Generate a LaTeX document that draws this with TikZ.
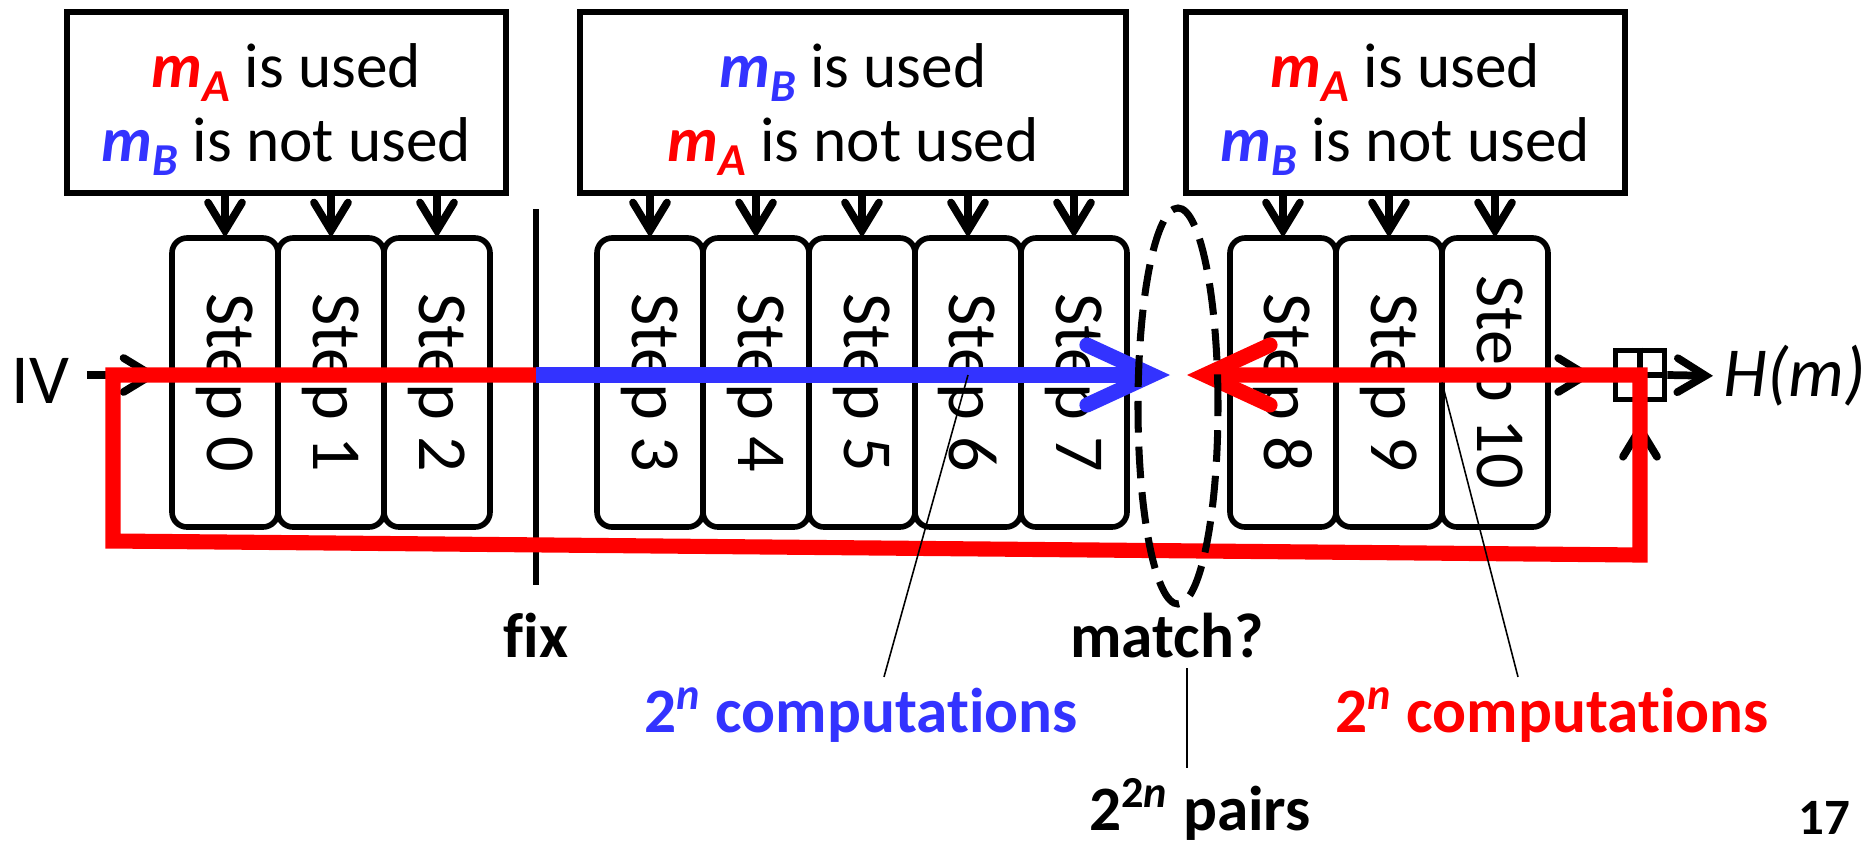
\documentclass[tikz,border=0pt]{standalone}
\usepackage{fontspec}
\setmainfont{Carlito}[Ligatures={NoCommon}]
\usetikzlibrary{arrows.meta,positioning,shapes.geometric}
\definecolor{mred}{HTML}{FF0000}
\definecolor{mblue}{HTML}{3333FF}
\newcommand{\msub}[1]{\raisebox{-4pt}{\fontsize{13}{13}\selectfont\textit{#1}}}
\newcommand{\ma}{\textcolor{mred}{\textbf{\textit{m}\msub{A}}}}
\newcommand{\mb}{\textcolor{mblue}{\textbf{\textit{m}\msub{B}}}}
\newcommand{\steplbl}[1]{\rotatebox{-90}{Step #1}}
\tikzset{
  usebox/.style={draw, line width=1.6pt, minimum height=1.81cm, align=center,
                 font=\fontsize{18}{21.3}\selectfont, inner sep=0pt, text depth=0pt},
  stepbox/.style={draw, line width=1.6pt, rounded corners=1.5mm, fill=white,
                  minimum width=1.06cm, minimum height=2.89cm, inner sep=0pt, outer sep=0pt,
                  font=\fontsize{20}{24}\selectfont},
  darr/.style={line width=2.2pt, -{Straight Barb[length=2.8mm,width=3.4mm,line cap=round]}},
  flow/.style={draw=#1, line width=4.3pt, line join=miter,
               -{Straight Barb[length=6.5mm,width=6mm,line cap=round]}},
  lbl/.style={font=\bfseries\fontsize{18}{21}\selectfont, inner sep=1mm},
  pointer/.style={line width=0.45pt},
}

\begin{document}
\begin{tikzpicture}
  \useasboundingbox (0,0) rectangle (18.72,-8.45);
  \coordinate (lvl) at (0,-3.75);

  % the eleven steps
  \node[stepbox, anchor=north west] (s0) at (1.72,-2.38) {\steplbl{0}};
  \node[stepbox, right=0pt of s0] (s1) {\steplbl{1}};
  \node[stepbox, right=0pt of s1] (s2) {\steplbl{2}};
  \node[stepbox, anchor=north west] (s3) at (5.97,-2.38) {\steplbl{3}};
  \node[stepbox, right=0pt of s3] (s4) {\steplbl{4}};
  \node[stepbox, right=0pt of s4] (s5) {\steplbl{5}};
  \node[stepbox, right=0pt of s5] (s6) {\steplbl{6}};
  \node[stepbox, right=0pt of s6] (s7) {\steplbl{7}};
  \node[stepbox, anchor=north west] (s8) at (12.30,-2.38) {\steplbl{8}};
  \node[stepbox, right=0pt of s8] (s9) {\steplbl{9}};
  \node[stepbox, right=0pt of s9] (s10) {\steplbl{10}};

  % message words per chunk
  \node[usebox, minimum width=4.39cm] (u1) at (2.865,-1.025) {\ma{} is used\\\mb{} is not used};
  \node[usebox, minimum width=5.46cm] (u2) at (8.53,-1.025) {\mb{} is used\\\ma{} is not used};
  \node[usebox, minimum width=4.39cm] (u3) at (14.055,-1.025) {\ma{} is used\\\mb{} is not used};
  \draw[darr] (u1.south -| s0.north) -- (s0.north);
  \draw[darr] (u1.south -| s1.north) -- (s1.north);
  \draw[darr] (u1.south -| s2.north) -- (s2.north);
  \draw[darr] (u2.south -| s3.north) -- (s3.north);
  \draw[darr] (u2.south -| s4.north) -- (s4.north);
  \draw[darr] (u2.south -| s5.north) -- (s5.north);
  \draw[darr] (u2.south -| s6.north) -- (s6.north);
  \draw[darr] (u2.south -| s7.north) -- (s7.north);
  \draw[darr] (u3.south -| s8.north) -- (s8.north);
  \draw[darr] (u3.south -| s9.north) -- (s9.north);
  \draw[darr] (u3.south -| s10.north) -- (s10.north);

  % chaining value, feed-forward, output
  \node[font=\fontsize{20}{24}\selectfont, inner sep=0pt, anchor=west] (iv) at (0.11,-3.81) {IV};
  \node[draw, line width=1.6pt, minimum size=0.49cm, inner sep=0pt] (ff) at (16.40,-3.75) {};
  \draw[line width=1.6pt] (ff.north) -- (ff.south) (ff.west) -- (ff.east);
  \node[font=\fontsize{20}{24}\selectfont, inner sep=0pt, anchor=west] (hm) at (17.23,-3.76) {\textit{H(m)}};
  \coordinate (ffin) at (16.40,-4.9);
  \draw[darr, shorten <=1.7mm, shorten >=1.3mm] (iv.east |- lvl) -- (s0.west |- lvl);
  \draw[darr, shorten >=1.9mm] (s10.east |- lvl) -- (ff.west);
  \draw[darr, shorten >=1.9mm] (ffin) -- (ff.south);
  \draw[darr, shorten >=1mm] (ff.east) -- (hm.west);

  % fixed state and the two directions
  \coordinate (fxtop) at (5.36,-2.09);
  \coordinate (fxbot) at (5.36,-5.85);
  \draw[line width=1.6pt] (fxtop) -- (fxbot);
  \coordinate (fx) at (5.36,-3.75);
  \coordinate (lpA) at (1.13,-5.41);
  \coordinate (lpB) at (16.40,-5.55);
  \coordinate (tipB) at (11.70,-3.75);
  \coordinate (tipR) at (11.87,-3.75);
  \draw[flow=mred] (fx) -| (lpA) -- (lpB) -- (ff.center) -- (tipR);
  \draw[flow=mblue] (fx) -- (tipB);
  \node[ellipse, draw, line width=2pt, dash pattern=on 9pt off 4pt,
        minimum width=0.8cm, minimum height=3.96cm, inner sep=0pt] (mt) at (11.78,-4.06) {};

  % labels
  \node[lbl, anchor=base] (fix) at (5.36,-6.57) {fix};
  \node[lbl, anchor=base] (match) at (11.67,-6.57) {match?};
  \node[lbl, anchor=base, text=mblue] (cB) at (8.61,-7.32) {2\textsuperscript{\textit{n}} computations};
  \node[lbl, anchor=base, text=mred] (cR) at (15.52,-7.32) {2\textsuperscript{\textit{n}} computations};
  \node[lbl, anchor=base] (pairs) at (12.00,-8.30) {2\textsuperscript{2\textit{n}} pairs};
  \node[lbl, anchor=base, font=\bfseries\fontsize{14.5}{17}\selectfont] (pg) at (18.24,-8.34) {17};
  \draw[pointer] (s6.center |- lvl) -- ([xshift=2.3mm]cB.north);
  \draw[pointer] (s9.east) -- ([xshift=-3.4mm]cR.north);
  \draw[pointer] ([xshift=2mm]match.south) -- ([xshift=2mm]match.south |- pairs.north);
\end{tikzpicture}
\end{document}
